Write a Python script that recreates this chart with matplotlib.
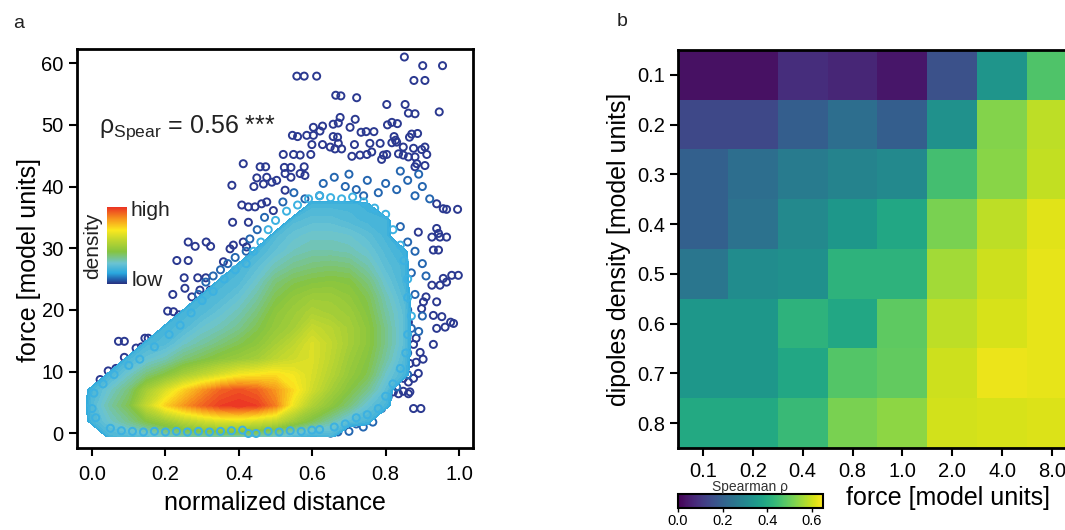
import numpy as np
import matplotlib.pyplot as plt
from matplotlib.colors import LinearSegmentedColormap

plt.rcParams['font.family'] = ['Liberation Sans', 'DejaVu Sans']
plt.rcParams['mathtext.fontset'] = 'custom'
plt.rcParams['mathtext.rm'] = 'Liberation Sans'
plt.rcParams['mathtext.it'] = 'Liberation Sans:italic'

# ---- panel a: force vs normalized distance ----
# smoothed point density on a coarse grid (columns = distance, rows = force)
grid_x = np.round(np.arange(-0.05, 0.951, 0.05), 2)
grid_y = np.arange(-0.5, 40.0, 2.5)
density_cols = [
    [0] * 17,
    [0, .20, .22, .20, 0, 0, 0, 0, 0, 0, 0, 0, 0, 0, 0, 0, 0],
    [.20, .28, .32, .28, .20, 0, 0, 0, 0, 0, 0, 0, 0, 0, 0, 0, 0],
    [.22, .34, .40, .36, .28, .20, 0, 0, 0, 0, 0, 0, 0, 0, 0, 0, 0],
    [.24, .42, .58, .50, .36, .26, .20, 0, 0, 0, 0, 0, 0, 0, 0, 0, 0],
    [.28, .48, .74, .62, .42, .30, .22, .20, 0, 0, 0, 0, 0, 0, 0, 0, 0],
    [.30, .55, .84, .74, .50, .36, .28, .22, .20, 0, 0, 0, 0, 0, 0, 0, 0],
    [.32, .60, .92, .84, .56, .40, .32, .27, .22, .20, 0, 0, 0, 0, 0, 0, 0],
    [.32, .64, .98, .92, .62, .44, .36, .30, .26, .22, .20, 0, 0, 0, 0, 0, 0],
    [.32, .65, 1.0, .95, .68, .47, .40, .34, .30, .26, .22, .20, 0, 0, 0, 0, 0],
    [.30, .62, .98, .92, .70, .50, .44, .40, .36, .32, .28, .24, .20, 0, 0, 0, 0],
    [.28, .58, .88, .84, .72, .56, .50, .46, .44, .40, .36, .30, .25, .22, 0, 0, 0],
    [.22, .48, .66, .72, .68, .60, .56, .50, .48, .45, .40, .34, .29, .26, .22, 0, 0],
    [.18, .40, .52, .60, .62, .63, .63, .58, .52, .48, .42, .36, .31, .28, .24, .20, 0],
    [.20, .32, .44, .50, .54, .56, .57, .55, .50, .48, .43, .37, .31, .28, .24, .20, 0],
    [0, .24, .36, .42, .46, .48, .50, .50, .48, .45, .42, .36, .30, .27, .22, .20, 0],
    [0, .20, .26, .34, .40, .42, .44, .44, .42, .40, .36, .31, .27, .24, .20, .18, 0],
    [0, 0, .20, .24, .28, .32, .34, .34, .32, .30, .27, .24, .22, .20, .20, 0, 0],
    [0, 0, 0, 0, .20, .22, .24, .24, .24, .22, .20, .20, .18, 0, 0, 0, 0],
    [0] * 17,
    [0] * 17,
]

# isolated points (lowest density)
sparse_pts = [
    (0.851, 61.0), (0.901, 59.6), (0.955, 59.6), (0.877, 57.2), (0.907, 57.2),
    (0.558, 57.9), (0.578, 57.9), (0.612, 57.9), (0.664, 54.8), (0.678, 54.7),
    (0.721, 54.4), (0.803, 53.3), (0.853, 53.3), (0.862, 51.9), (0.880, 51.8),
    (0.946, 52.1), (0.676, 51.2), (0.671, 50.3), (0.717, 50.9), (0.703, 49.6),
    (0.657, 50.1), (0.805, 50.0), (0.817, 50.4), (0.832, 50.2), (0.628, 49.8),
    (0.621, 49.0), (0.603, 49.6), (0.747, 48.9), (0.768, 48.9), (0.733, 48.8),
    (0.823, 48.1), (0.827, 47.5), (0.871, 48.5), (0.887, 48.6), (0.865, 48.0),
    (0.546, 48.3), (0.560, 48.1), (0.585, 48.3), (0.603, 48.3), (0.657, 48.1),
    (0.669, 48.0), (0.599, 46.8), (0.628, 46.8), (0.715, 46.8), (0.757, 47.0),
    (0.785, 47.0), (0.817, 47.1), (0.830, 47.2), (0.848, 46.4), (0.907, 46.4),
    (0.898, 46.0), (0.876, 46.2), (0.912, 45.2), (0.649, 46.4), (0.662, 46.1),
    (0.680, 46.1), (0.671, 47.0), (0.521, 45.2), (0.549, 45.2), (0.567, 45.1),
    (0.596, 45.2), (0.708, 44.9), (0.730, 45.1), (0.749, 45.2), (0.762, 45.6),
    (0.794, 45.1), (0.803, 45.2), (0.835, 45.3), (0.848, 45.1), (0.862, 44.8),
    (0.880, 44.8), (0.885, 43.7), (0.907, 43.4), (0.789, 44.4), (0.412, 43.7),
    (0.458, 43.2), (0.473, 43.2), (0.524, 43.1), (0.542, 43.1), (0.578, 43.2),
    (0.880, 43.2), (0.449, 41.4), (0.476, 41.5), (0.503, 41.0), (0.526, 42.1),
    (0.542, 41.5), (0.567, 42.1), (0.580, 41.8), (0.381, 40.2), (0.441, 40.0),
    (0.467, 40.4), (0.490, 40.7), (0.526, 39.4), (0.383, 34.2), (0.426, 34.2),
    (0.408, 37.0), (0.426, 36.7), (0.444, 36.7), (0.462, 37.2), (0.476, 37.5),
    (0.494, 36.1), (0.939, 37.2), (0.957, 36.4), (0.966, 36.3), (0.996, 36.3),
    (0.939, 33.2), (0.944, 32.4), (0.926, 31.8), (0.948, 31.8), (0.966, 31.8),
    (0.930, 29.7), (0.944, 29.7), (0.889, 32.6), (0.262, 31.0), (0.281, 30.3),
    (0.311, 31.0), (0.323, 30.3), (0.376, 29.9), (0.385, 30.5), (0.412, 31.0),
    (0.421, 30.2), (0.231, 28.0), (0.262, 28.0), (0.358, 27.8), (0.251, 25.2),
    (0.288, 25.2), (0.310, 25.2), (0.220, 22.5), (0.206, 19.8), (0.222, 19.7),
    (0.237, 19.2), (0.237, 18.6), (0.205, 14.4), (0.233, 14.4), (0.253, 23.5),
    (0.272, 22.1), (0.294, 23.2), (0.322, 23.2), (0.303, 21.8), (0.330, 21.6),
    (0.308, 20.2), (0.335, 20.2), (0.317, 18.6), (0.267, 19.1), (0.272, 17.8),
    (0.262, 16.7), (0.272, 15.6), (0.072, 14.9), (0.088, 14.9), (0.120, 13.8),
    (0.135, 14.0), (0.126, 12.9), (0.144, 13.5), (0.163, 13.1), (0.144, 15.4),
    (0.153, 15.4), (0.088, 12.3), (0.022, 8.7), (0.044, 10.1), (0.065, 10.5),
    (0.088, 10.1), (0.113, 10.5), (0.005, 5.3), (0.876, 4.0), (0.896, 4.0),
    (0.821, 6.7), (0.835, 6.4), (0.848, 6.8), (0.862, 6.4), (0.866, 6.7),
    (0.848, 8.9), (0.862, 8.3), (0.876, 8.9), (0.889, 9.7), (0.866, 11.3),
    (0.883, 11.5), (0.902, 12.0), (0.894, 13.1), (0.853, 15.4), (0.883, 15.4),
    (0.876, 14.4), (0.930, 14.4), (0.939, 17.0), (0.962, 17.2), (0.985, 17.8),
    (0.977, 18.0), (0.930, 19.1), (0.953, 18.9), (0.903, 21.3), (0.910, 22.1),
    (0.898, 20.2), (0.939, 21.3), (0.926, 24.0), (0.948, 24.0), (0.957, 25.1),
    (0.966, 24.5), (0.980, 25.6), (0.998, 25.6), (0.862, 18.0),
]

# points at the border of the dense cloud
edge_pts = [
    (0.63, 40.5), (0.66, 41.5), (0.69, 40.0), (0.72, 39.5), (0.75, 41.0),
    (0.78, 39.0), (0.80, 40.5), (0.83, 39.5), (0.86, 41.0), (0.88, 38.5),
    (0.90, 40.0), (0.92, 38.0), (0.62, 38.5), (0.70, 42.0), (0.74, 38.5),
    (0.84, 42.5), (0.89, 42.0), (0.55, 39.0), (0.58, 38.0), (0.52, 37.5),
    (0.84, 33.5), (0.86, 31.0), (0.88, 29.5), (0.90, 27.5), (0.87, 26.0),
    (0.91, 25.5), (0.85, 24.5), (0.88, 22.5), (0.86, 20.0), (0.90, 19.0),
    (0.87, 17.0), (0.84, 16.0), (0.89, 16.5), (0.86, 13.0), (0.84, 11.5),
    (0.83, 10.0), (0.86, 9.5), (0.81, 8.0), (0.83, 7.5), (0.79, 6.5),
    (0.77, 5.0), (0.76, 3.5), (0.74, 2.5), (0.72, 1.5), (0.70, 0.3),
    (0.65, 0.0), (0.67, 0.2), (0.739, 1.0), (0.765, 1.8), (0.789, 4.0),
    (0.807, 5.9), (0.16, 11.5), (0.18, 13.0), (0.20, 12.0), (0.22, 14.0),
    (0.24, 16.0), (0.26, 18.0), (0.28, 20.0), (0.29, 22.5), (0.31, 24.5),
    (0.33, 25.5), (0.35, 26.5), (0.37, 27.5), (0.39, 28.5), (0.42, 29.5),
    (0.45, 33.0), (0.47, 35.0), (0.43, 31.5), (0.30, 17.0), (0.26, 15.0),
    (0.12, 9.5), (0.08, 8.5), (0.04, 7.5), (0.015, 6.0), (0.02, 3.5),
    (0.022, 1.6), (0.031, 1.6), (0.06, 0.8),
]

# points hugging the dense cloud
rim_pts = [
    (0.05, 0.8), (0.08, 0.4), (0.11, 0.3), (0.14, 0.2), (0.17, 0.3),
    (0.20, 0.2), (0.23, 0.3), (0.26, 0.2), (0.29, 0.3), (0.32, 0.2),
    (0.35, 0.3), (0.38, 0.4), (0.41, 0.5), (0.426, -0.05), (0.447, -0.05),
    (0.48, 0.3), (0.51, 0.2), (0.54, 0.4), (0.57, 0.3), (0.599, 0.5),
    (0.62, 0.6), (0.66, 1.0), (0.69, 1.5), (0.72, 2.5), (0.0, 4.0),
    (0.01, 2.5), (0.005, 6.5), (0.03, 8.0), (0.06, 9.5), (0.10, 11.0),
    (0.13, 12.0), (0.17, 14.0), (0.21, 16.0), (0.24, 17.5), (0.27, 19.5),
    (0.30, 21.5), (0.33, 23.0), (0.36, 25.0), (0.39, 26.5), (0.42, 27.5),
    (0.44, 29.5), (0.46, 31.0), (0.48, 33.0), (0.50, 34.5), (0.53, 36.0),
    (0.56, 37.0), (0.59, 38.0), (0.62, 38.5), (0.65, 38.2), (0.68, 38.0),
    (0.71, 38.3), (0.74, 37.5), (0.77, 36.5), (0.80, 35.5), (0.82, 33.0),
    (0.84, 30.5), (0.85, 28.0), (0.86, 25.0), (0.86, 22.0), (0.87, 19.0),
    (0.86, 16.0), (0.855, 13.0), (0.84, 10.5), (0.82, 8.0), (0.80, 6.0),
    (0.78, 4.0), (0.75, 3.0),
]
rho_text = r'$\mathrm{\rho_{Spear}}$ = 0.56 ***'

# ---- panel b: Spearman rho per force / dipole density ----
force_labels = ['0.1', '0.2', '0.4', '0.8', '1.0', '2.0', '4.0', '8.0']
dipole_labels = ['0.1', '0.2', '0.3', '0.4', '0.5', '0.6', '0.7', '0.8']
rho_values = [
    [0.03, 0.03, 0.085, 0.07, 0.04, 0.16, 0.34, 0.47],
    [0.14, 0.14, 0.195, 0.235, 0.195, 0.33, 0.53, 0.585],
    [0.20, 0.235, 0.27, 0.29, 0.305, 0.455, 0.535, 0.59],
    [0.20, 0.245, 0.305, 0.345, 0.39, 0.52, 0.585, 0.62],
    [0.255, 0.315, 0.325, 0.42, 0.42, 0.56, 0.60, 0.625],
    [0.345, 0.345, 0.42, 0.39, 0.49, 0.585, 0.61, 0.625],
    [0.345, 0.345, 0.39, 0.475, 0.495, 0.60, 0.63, 0.625],
    [0.395, 0.395, 0.44, 0.52, 0.54, 0.605, 0.61, 0.615],
]

dens_cmap = LinearSegmentedColormap.from_list('dens', [
    (0.0, '#28307f'), (0.06, '#2362ae'), (0.14, '#2aa8df'), (0.27, '#6cc4d2'),
    (0.42, '#86c440'), (0.58, '#c4d82e'), (0.70, '#fbe91f'), (0.85, '#f7941d'),
    (1.0, '#eb3324')])

W, H = 1065, 530
fig = plt.figure(figsize=(W / 100, H / 100), dpi=100)


def px_axes(x0, y0, x1, y1):
    return fig.add_axes([x0 / W, 1 - y1 / H, (x1 - x0) / W, (y1 - y0) / H])


def style_axes(ax, xpad=6.5):
    for sp in ax.spines.values():
        sp.set_linewidth(2)
    ax.tick_params(direction='out', length=5.5, width=1.5, labelsize=14.5)
    ax.tick_params(axis='x', pad=xpad)
    ax.tick_params(axis='y', pad=4)


# scatter panel: sparse points below, dense cloud, rim points on its border
ax1 = px_axes(77, 49, 473, 448)
density = np.array(density_cols).T
ax1.contourf(grid_x, grid_y, density, levels=np.linspace(0.15, 1.0, 44),
             cmap=dens_cmap, vmin=0, vmax=1, zorder=4)
for pts, col, z in [(sparse_pts, '#2b3990', 1), (edge_pts, '#2466b0', 2),
                    (rim_pts, '#3cb1e1', 5)]:
    arr = np.array(pts)
    ax1.scatter(arr[:, 0], arr[:, 1], s=26, facecolors='none', edgecolors=col,
                linewidths=1.4, zorder=z)
ax1.set_xlim(-0.041, 1.038)
ax1.set_ylim(-2.4, 62.3)
ax1.set_xticks(np.arange(0, 1.01, 0.2))
ax1.set_xticklabels(['%.1f' % v for v in np.arange(0, 1.01, 0.2)])
ax1.set_yticks(range(0, 61, 10))
style_axes(ax1)
ax1.set_xlabel('normalized distance', fontsize=18, labelpad=5)
ax1.set_ylabel('force [model units]', fontsize=18, labelpad=0, y=0.47)
ax1.text(0.055, 0.79, rho_text, transform=ax1.transAxes, fontsize=18,
         color='#222222', va='baseline')

# density legend
cax_d = px_axes(107, 207, 127, 284)
cax_d.imshow(np.linspace(0, 1, 256).reshape(-1, 1), origin='lower',
             aspect='auto', cmap=dens_cmap)
cax_d.axis('off')
fig.text(130 / W, 1 - 211 / H, 'high', fontsize=15, va='center', color='#222222')
fig.text(132 / W, 1 - 280 / H, 'low', fontsize=15, va='center', color='#222222')
fig.text(93 / W, 1 - 246 / H, 'density', fontsize=15, rotation=90,
         va='center', ha='center', color='#222222')

# heatmap panel (extends past the right edge of the figure)
ax2 = px_axes(678, 50, 1077, 448)
im = ax2.imshow(np.array(rho_values), cmap='viridis', vmin=0, vmax=0.65,
                aspect='auto', interpolation='nearest')
ax2.set_xticks(range(len(force_labels)))
ax2.set_xticklabels(force_labels)
ax2.set_yticks(range(len(dipole_labels)))
ax2.set_yticklabels(dipole_labels)
style_axes(ax2, xpad=4.5)
ax2.set_xlabel('force [model units]', fontsize=18, x=0.677, labelpad=4)
ax2.set_ylabel('dipoles density [model units]', fontsize=18, labelpad=4)

cax = px_axes(678, 494, 823, 508)
cb = fig.colorbar(im, cax=cax, orientation='horizontal', ticks=[0, 0.2, 0.4, 0.6])
cb.outline.set_linewidth(1.5)
cax.tick_params(labelsize=10.5, length=3, width=1, pad=1)
cax.set_title('Spearman ρ', fontsize=10, pad=0, color='#333333')

fig.text(19 / W, 1 - 23 / H, 'a', fontsize=14, ha='center', va='center', color='#222222')
fig.text(622 / W, 1 - 22 / H, 'b', fontsize=14, ha='center', va='center', color='#222222')

fig.savefig('out.png', dpi=100)
